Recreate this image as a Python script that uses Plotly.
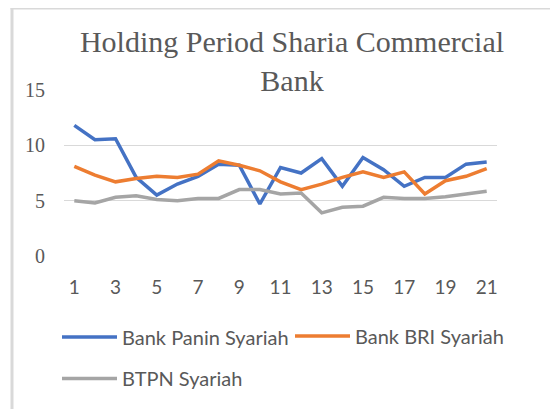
import plotly.graph_objects as go

periods = list(range(1, 22))
tick_labels = [str(i) for i in range(1, 22, 2)]
tick_positions = list(range(1, 22, 2))

panin = [11.8, 10.5, 10.6, 7.1, 5.5, 6.5, 7.2, 8.3, 8.2, 4.7, 8.0, 7.5,
         8.8, 6.3, 8.9, 7.8, 6.3, 7.1, 7.1, 8.3, 8.5]
bri = [8.1, 7.3, 6.7, 7.0, 7.2, 7.1, 7.4, 8.6, 8.2, 7.7, 6.7, 6.0,
       6.5, 7.1, 7.6, 7.1, 7.6, 5.6, 6.8, 7.2, 7.9]
btpn = [5.0, 4.8, 5.3, 5.45, 5.1, 5.0, 5.2, 5.2, 6.0, 6.0, 5.6, 5.7,
        3.9, 4.4, 4.5, 5.3, 5.2, 5.2, 5.35, 5.6, 5.85]

series = [
    ("Bank Panin Syariah", panin, "#4472C4", "legend"),
    ("Bank BRI Syariah", bri, "#ED7D31", "legend2"),
    ("BTPN Syariah", btpn, "#A5A5A5", "legend3"),
]

fig = go.Figure()
for name, vals, color, lg in series:
    fig.add_trace(go.Scatter(
        x=periods, y=vals, name=name, mode="lines",
        line=dict(color=color, width=3.5),
        legend=lg,
    ))

# page body has an 8px margin: figure coordinates = screen - 8
OFF = 8
W, H = 550, 401
L, R, T, B = 56, 61, 82, 153
pw = W - L - R
ph = H - T - B


def px_x(p):
    return (p - OFF - L) / pw


def px_y(p):
    return (H - B - (p - OFF)) / ph


legend_font = dict(family="Lato", size=20, color="#595959")


def leg(x, y):
    return dict(
        orientation="h", x=px_x(x), xanchor="left",
        y=px_y(y), yanchor="middle",
        font=legend_font, itemwidth=55, bgcolor="rgba(0,0,0,0)",
    )


fig.update_layout(
    width=W, height=H,
    margin=dict(l=L, r=R, t=T, b=B, autoexpand=False),
    paper_bgcolor="white", plot_bgcolor="white",
    title=dict(
        text="Holding Period Sharia Commercial<br>Bank",
        font=dict(family="Liberation Serif", size=30, color="#595959"),
        x=(292 - OFF) / W, xanchor="center",
        y=1 - 44 / H, yanchor="middle",
    ),
    xaxis=dict(
        range=[0.5, 21.5], tickmode="array", tickvals=tick_positions,
        ticktext=tick_labels, showgrid=False, zeroline=False,
        showline=False, ticks="",
        tickfont=dict(family="Lato", size=19, color="#595959"),
        ticklabelstandoff=18,
    ),
    yaxis=dict(
        range=[0, 15], tickvals=[0, 5, 10, 15], showgrid=True,
        gridcolor="#D9D9D9", gridwidth=1, zeroline=False, showline=False,
        ticks="",
        tickfont=dict(family="Liberation Serif", size=20, color="#595959"),
        ticklabelstandoff=18,
    ),
    showlegend=True,
    legend=leg(57, 337),
    legend2=leg(290, 336),
    legend3=leg(57, 378.5),
    shapes=[
        dict(type="line", xref="paper", yref="paper",
             x0=px_x(12), x1=px_x(12), y0=px_y(H + 30), y1=px_y(OFF),
             line=dict(color="#D9D9D9", width=3)),
        dict(type="line", xref="paper", yref="paper",
             x0=px_x(10.5), x1=px_x(W + 30), y0=px_y(OFF + 0.5),
             y1=px_y(OFF + 0.5),
             line=dict(color="#D9D9D9", width=2)),
    ],
)

fig.write_html("out.html")
